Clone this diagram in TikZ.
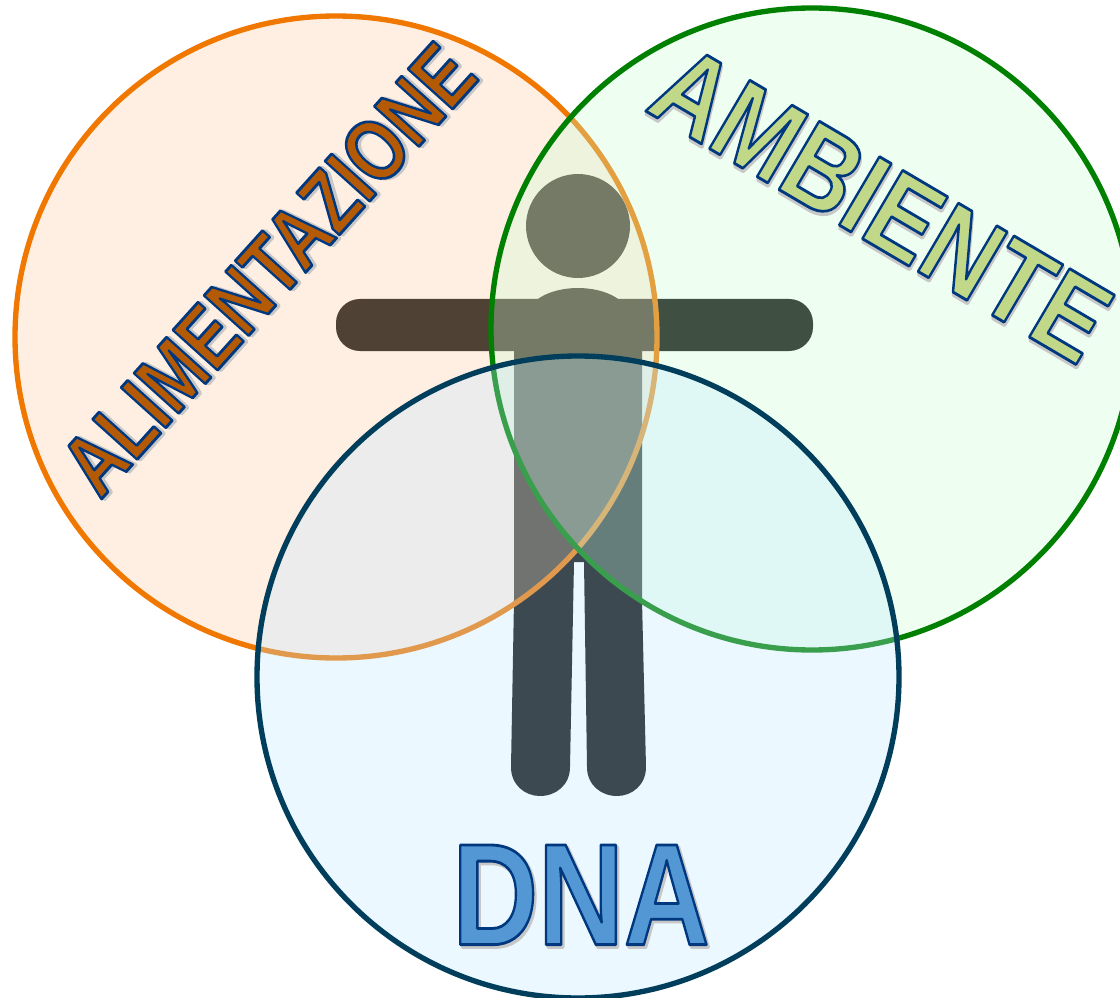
\documentclass[tikz,border=0pt]{standalone}
\usepackage{fontspec}
\setmainfont{Liberation Sans}
\usepackage{tikz}
\usetikzlibrary{positioning}

\definecolor{ringA}{HTML}{F07800}
\definecolor{ringB}{HTML}{008000}
\definecolor{ringC}{HTML}{003E5C}
\definecolor{fillA}{RGB}{255,205,165}
\definecolor{fillB}{RGB}{200,255,212}
\definecolor{fillC}{RGB}{190,232,255}
\definecolor{wordA}{HTML}{B45A05}
\definecolor{wordB}{HTML}{C0D888}
\definecolor{wordC}{HTML}{5398D4}

% word with outline and soft shadow
\newcommand{\artword}[4]{\scalebox{#2}[1]{\fontsize{#1}{#1}\bfseries
  \rlap{\kern1.7pt\raisebox{-1.7pt}{\color{black!20}\special{pdf:code 1 j 2 Tr 2.6 w 0.78 G}#4\special{pdf:code 0 Tr}}}%
  \color{#3}\special{pdf:code 1 j 2 Tr 2 w 0 0.22 0.5 RG}#4\special{pdf:code 0 Tr}}}

\begin{document}
\begin{tikzpicture}[
  x=0.025cm,y=-0.025cm,
  ring/.style={line width=3.8pt, fill opacity=0.3},
  word/.style={inner sep=0pt, anchor=center}
]
\useasboundingbox (0,0) rectangle (1120,998);
\fill[white] (0,0) rectangle (1120,998);

% figure
\fill[black!98] (578,226) circle[radius=52];
\fill[black!98,rounded corners=17pt] (336,299) rectangle (813,351);
\fill[black!98] (578,318) ellipse[x radius=52,y radius=30];
\fill[black!98] (514,340) -- (514,600) -- (511,767)
  .. controls (511,785) and (525,796) .. (540,796)
  .. controls (556,796) and (570,785) .. (570,767)
  -- (574,562) -- (584,562) -- (587,767)
  .. controls (587,785) and (601,796) .. (617,796)
  .. controls (632,796) and (646,785) .. (646,767)
  -- (642,600) -- (642,340) -- cycle;

% circles
\draw[ring,draw=ringA,fill=fillA] (336,337) circle[radius=321];
\draw[ring,draw=ringB,fill=fillB] (812,329) circle[radius=321];
\draw[ring,draw=ringC,fill=fillC] (578,677) circle[radius=321];

% words
\node[word,rotate=48] (alimentazione) at (269,270) {\artword{62pt}{0.80}{wordA}{ALIMENTAZIONE}};
\node[word,rotate=-30.5] (ambiente) at (881,205) {\artword{82pt}{0.84}{wordB}{AMBIENTE}};
\node[word] (dna) at (581,896) {\artword{103pt}{0.82}{wordC}{DNA}};
\end{tikzpicture}
\end{document}
